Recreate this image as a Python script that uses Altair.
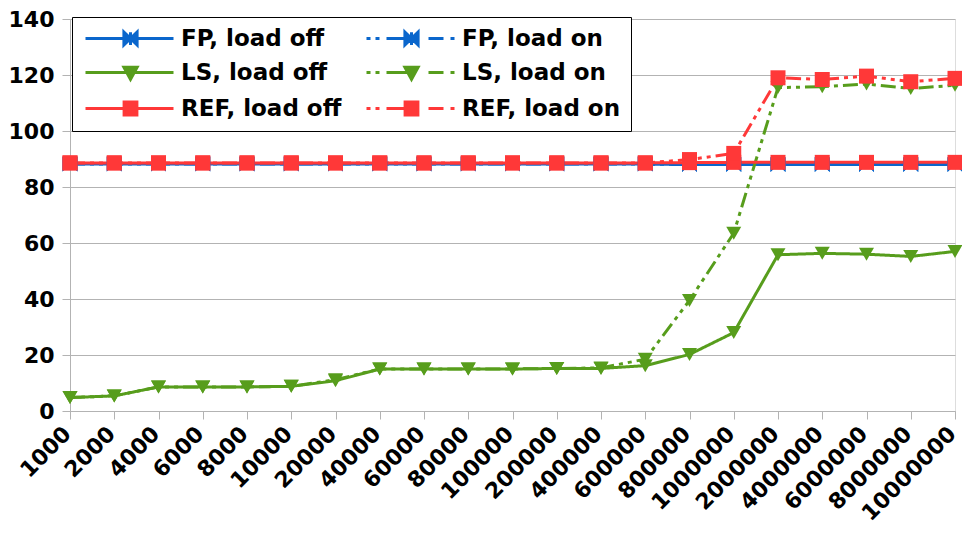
import altair as alt
import pandas as pd

cats = ["1000", "2000", "4000", "6000", "8000", "10000", "20000", "40000", "60000",
        "80000", "100000", "200000", "400000", "600000", "800000", "1000000",
        "2000000", "4000000", "6000000", "8000000", "10000000"]

fp_off = [88.2, 88.2, 88.2, 88.2, 88.2, 88.2, 88.2, 88.2, 88.2, 88.2, 88.2,
          88.2, 88.2, 88.2, 88.0, 88.0, 88.0, 88.0, 88.0, 88.0, 88.0]
fp_on = [88.2, 88.2, 88.2, 88.2, 88.2, 88.2, 88.2, 88.2, 88.2, 88.2, 88.2,
         88.2, 88.2, 88.2, 88.0, 88.0, 88.0, 88.0, 88.0, 88.0, 88.0]
ls_off = [4.8, 5.4, 8.6, 8.6, 8.6, 8.8, 10.8, 15.0, 15.0, 15.0, 15.0,
          15.2, 15.2, 16.2, 20.2, 28.0, 55.8, 56.3, 56.0, 55.2, 57.0]
ls_on = [4.8, 5.4, 8.6, 8.6, 8.6, 8.8, 11.2, 15.0, 15.0, 15.0, 15.0,
         15.2, 15.4, 18.5, 39.5, 63.5, 115.5, 115.8, 116.8, 115.2, 116.3]
ref_off = [88.6, 88.6, 88.6, 88.6, 88.6, 88.6, 88.6, 88.6, 88.6, 88.6, 88.6,
           88.6, 88.6, 88.6, 88.7, 88.8, 88.8, 88.8, 88.8, 88.8, 88.8]
ref_on = [88.6, 88.6, 88.6, 88.6, 88.6, 88.6, 88.6, 88.6, 88.6, 88.6, 88.6,
          88.6, 88.6, 88.6, 89.8, 92.0, 119.0, 118.4, 119.6, 117.6, 118.8]

series_names = ["FP, load off", "FP, load on", "LS, load off",
                "LS, load on", "REF, load off", "REF, load on"]
series_values = [fp_off, fp_on, ls_off, ls_on, ref_off, ref_on]

BLUE, GREEN, RED = "#0a66cc", "#579d1c", "#ff3838"
colors = [BLUE, BLUE, GREEN, GREEN, RED, RED]
dash_on = [15, 5, 4, 5, 4, 5]
dashes = [[1, 0], dash_on, [1, 0], dash_on, [1, 0], dash_on]

bowtie = "M-1,-1L0,0L-1,1ZM1,-1L0,0L1,1ZM0,-1V1"
plot_shapes = [bowtie, bowtie, "triangle-down", "triangle-down", "square", "square"]

# legend glyphs (line sample + marker), drawn as custom symbol paths
solid_line = "M-1,0H10"
dashed_line = "M-1,0H-0.5M0.125,0H0.625M1.5,0H4.625M6.75,0H8.625M9.5,0H10"
m_bow = "M3.8,-0.8L4.625,0L3.8,0.8ZM5.45,-0.8L4.625,0L5.45,0.8ZM4.625,-0.8V0.8"
m_tri = "M3.8,-0.65L5.45,-0.65L4.625,0.85Z"
m_sq = "M3.825,-0.8H5.425V0.8H3.825Z"
legend_order = ["FP, load off", "LS, load off", "REF, load off",
                "FP, load on", "LS, load on", "REF, load on"]
legend_colors = [BLUE, GREEN, RED, BLUE, GREEN, RED]
legend_shapes = [solid_line + m_bow, solid_line + m_tri, solid_line + m_sq,
                 dashed_line + m_bow, dashed_line + m_tri, dashed_line + m_sq]

rows = []
for name, vals in zip(series_names, series_values):
    for c, v in zip(cats, vals):
        rows.append({"size": c, "value": v, "series": name})
df = pd.DataFrame(rows)

FONT = "DejaVu Sans"
GRID = "#b3b3b3"

x_enc = alt.X("size:O", sort=cats, scale=alt.Scale(type="point", padding=0),
              axis=alt.Axis(title=None, labelAngle=-45, labelAlign="right",
                            labelBaseline="middle", labelOffset=-3, labelFont=FONT,
                            labelFontSize=22, labelFontWeight="bold", labelColor="black",
                            tickSize=8, tickColor=GRID, domainColor=GRID, grid=False,
                            labelPadding=11, labelOverlap=False))
y_enc = alt.Y("value:Q", scale=alt.Scale(domain=[0, 140], nice=False),
              axis=alt.Axis(title=None, values=[0, 20, 40, 60, 80, 100, 120, 140],
                            labelFont=FONT, labelFontSize=22, labelFontWeight="bold",
                            labelColor="black", tickSize=8, tickColor=GRID,
                            domainColor=GRID, gridColor=GRID, labelPadding=8))

color_scale = alt.Scale(domain=series_names, range=colors)

lines = alt.Chart(df).mark_line(strokeWidth=3).encode(
    x=x_enc, y=y_enc,
    color=alt.Color("series:N", scale=color_scale, legend=None),
    strokeDash=alt.StrokeDash("series:N", scale=alt.Scale(domain=series_names, range=dashes),
                              legend=None),
)

points = alt.Chart(df).mark_point(filled=True, opacity=1, size=225).encode(
    x=x_enc, y=y_enc,
    color=alt.Color("series:N", scale=color_scale, legend=None),
    shape=alt.Shape("series:N", scale=alt.Scale(domain=series_names, range=plot_shapes),
                    legend=None),
)

leg = alt.Legend(title=None, orient="none", legendX=2, legendY=-2, columns=2,
                 labelFont=FONT, labelFontSize=23, labelFontWeight="bold",
                 labelColor="black", labelLimit=0, symbolSize=256, symbolStrokeWidth=3,
                 symbolOpacity=1, labelOffset=76, columnPadding=18, rowPadding=10,
                 padding=10, strokeColor="black", fillColor="white", symbolLimit=0)

legend_layer = alt.Chart(df).mark_point(filled=True, opacity=1, strokeWidth=3).encode(
    x=x_enc, y=y_enc,
    color=alt.Color("series:N", scale=alt.Scale(domain=legend_order, range=legend_colors),
                    legend=leg),
    stroke=alt.Stroke("series:N", scale=alt.Scale(domain=legend_order, range=legend_colors),
                      legend=leg),
    shape=alt.Shape("series:N", scale=alt.Scale(domain=legend_order, range=legend_shapes),
                    legend=leg),
).transform_filter("false")

chart = alt.layer(lines, points, legend_layer).resolve_scale(
    color="independent", shape="independent", stroke="independent"
).properties(
    width=885, height=392,
    autosize=alt.AutoSizeParams(type="none"),
    padding={"left": 62, "top": 11, "right": 7, "bottom": 117},
).configure_view(stroke=None).configure(background="white")

chart.save("out.html", embed_options={"renderer": "svg", "actions": False})
